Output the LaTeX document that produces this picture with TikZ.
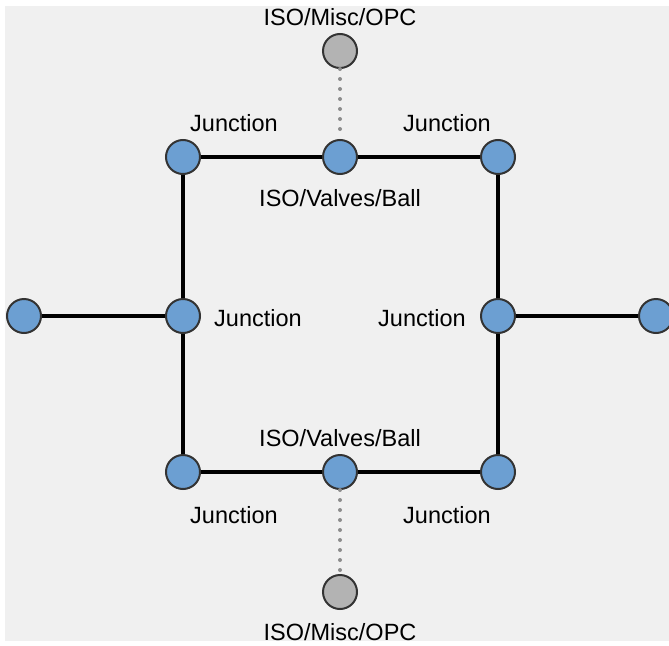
\documentclass[tikz,border=0pt]{standalone}
\usepackage{fontspec}
\setmainfont{Liberation Sans}
\definecolor{pagebg}{HTML}{F0F0F0}
\definecolor{nodeblue}{HTML}{6C9FD2}
\definecolor{nodegray}{HTML}{B3B3B3}
\definecolor{rimgray}{HTML}{333333}
\definecolor{dotgray}{HTML}{8C8C8C}
\tikzset{
  pipe/.style={line width=4.5pt, black},
  link/.style={line width=4pt, dotgray, line cap=round, dash pattern=on 0pt off 10pt},
  joint/.style={circle, draw=rimgray, line width=2pt, fill=nodeblue, minimum size=34pt, inner sep=0pt},
  opc/.style={circle, draw=rimgray, line width=2pt, fill=nodegray, minimum size=34pt, inner sep=0pt},
  lbl/.style={font=\fontsize{23.5}{26}\selectfont, text=black, inner sep=0pt}
}
\begin{document}
\begin{tikzpicture}[x=1pt, y=-1pt]
  \useasboundingbox (0,0) rectangle (669,645);
  \fill[pagebg] (5,6) rectangle (669,641);

  % nodes
  \node[opc]   (g1) at (340,51)  {};
  \node[joint] (tl) at (183,157) {};
  \node[joint] (tm) at (340,157) {};
  \node[joint] (tr) at (498,157) {};
  \node[joint] (lf) at (24,316)  {};
  \node[joint] (ml) at (183,316) {};
  \node[joint] (mr) at (498,316) {};
  \node[joint] (rf) at (656,316) {};
  \node[joint] (bl) at (183,472) {};
  \node[joint] (bm) at (340,472) {};
  \node[joint] (br) at (498,472) {};
  \node[opc]   (g2) at (340,592) {};

  % pipes
  \draw[pipe] (tl) -- (tm);
  \draw[pipe] (tm) -- (tr);
  \draw[pipe] (tl) -- (ml);
  \draw[pipe] (ml) -- (bl);
  \draw[pipe] (bl) -- (bm);
  \draw[pipe] (bm) -- (br);
  \draw[pipe] (tr) -- (mr);
  \draw[pipe] (mr) -- (br);
  \draw[pipe] (lf) -- (ml);
  \draw[pipe] (mr) -- (rf);
  \draw[link] (g1) -- (tm);
  \draw[link] (bm) -- (g2);

  % labels
  \node[lbl] (t1) at (340,17)  {ISO/Misc/OPC};
  \node[lbl] (t2) at (234,123) {Junction};
  \node[lbl] (t3) at (447,123) {Junction};
  \node[lbl] (t4) at (340,198) {ISO/Valves/Ball};
  \node[lbl] (t5) at (258,318) {Junction};
  \node[lbl] (t6) at (422,318) {Junction};
  \node[lbl] (t7) at (340,438) {ISO/Valves/Ball};
  \node[lbl] (t8) at (234,515) {Junction};
  \node[lbl] (t9) at (447,515) {Junction};
  \node[lbl] (t10) at (340,632) {ISO/Misc/OPC};
\end{tikzpicture}
\end{document}
